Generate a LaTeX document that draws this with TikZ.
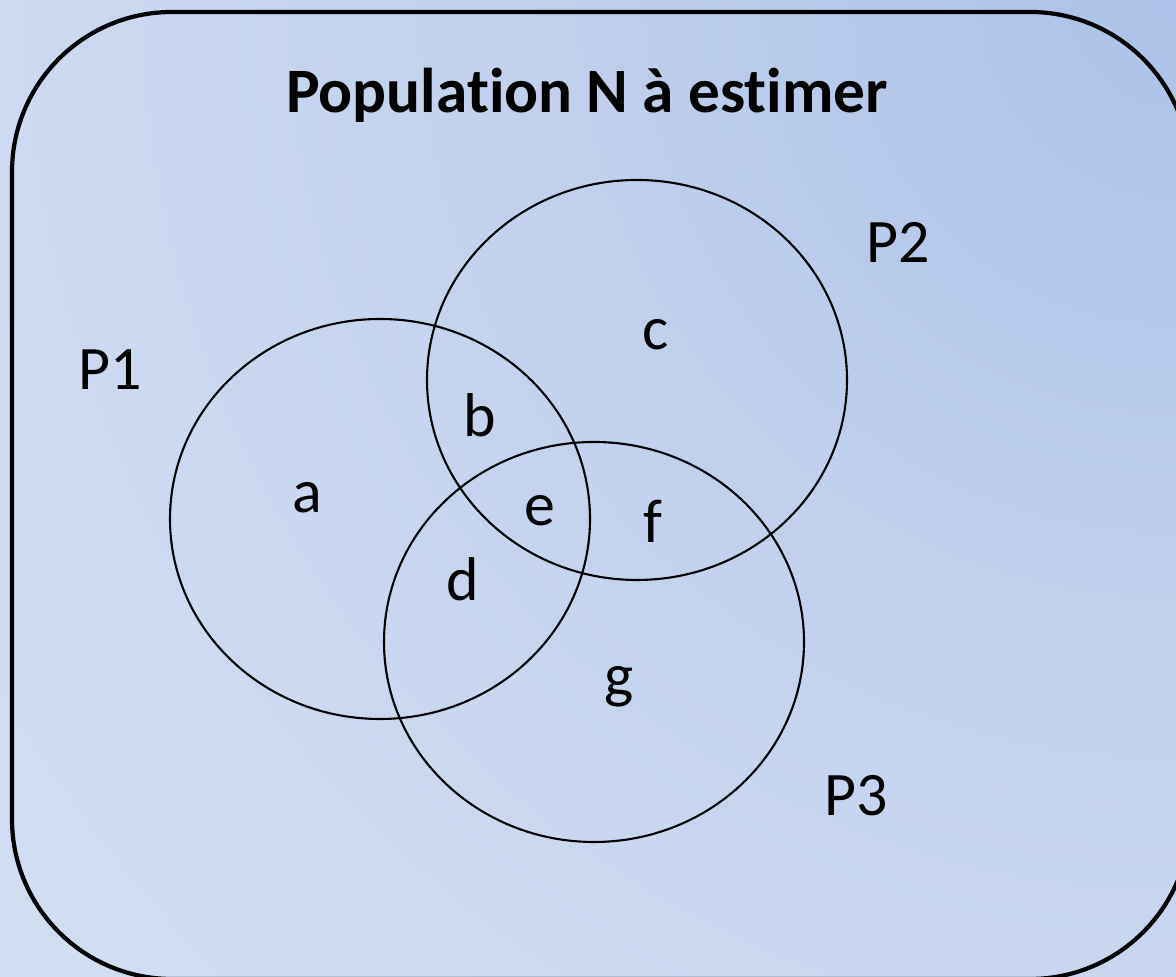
\documentclass[tikz,border=0pt]{standalone}
\usepackage{fontspec}
\setmainfont{Carlito}[Ligatures=NoCommon]
\usetikzlibrary{positioning}
\definecolor{bgdark}{RGB}{172,194,232}
\definecolor{bgmid}{RGB}{192,208,237}
\definecolor{bgsoft}{RGB}{208,220,242}
\definecolor{bglight}{RGB}{215,225,243}
\pgfdeclareradialshading{cornerglow}{\pgfpoint{0bp}{0bp}}{%
  color(0bp)=(bgdark); color(9bp)=(bgmid); color(19bp)=(bgsoft);
  color(30bp)=(bglight); color(50bp)=(bglight)}
\begin{document}
\begin{tikzpicture}[
  frame/.style={draw=black,line width=1.2pt,rounded corners=1.6cm},
  set/.style={draw=black,line width=0.6pt},
  title/.style={font=\fontsize{18}{21}\selectfont\bfseries,anchor=base},
  lbl/.style={font=\fontsize{17.6}{20}\selectfont,anchor=base,inner sep=0pt}]
\useasboundingbox (0,0) rectangle (11.76,9.77);
\begin{scope}
  \clip (0,0) rectangle (11.76,9.77);
  \fill[bglight] (0,0) rectangle (11.76,9.77);
  \shade[shading=cornerglow] (11.76,9.77) circle (17);
  \draw[frame] (0.12,9.65) rectangle (11.90,-0.02);
\end{scope}
% the three samples
\draw[set] (3.80,4.58) ellipse [x radius=2.10,y radius=2.00];
\draw[set] (6.37,5.97) ellipse [x radius=2.10,y radius=2.00];
\draw[set] (5.94,3.35) ellipse [x radius=2.10,y radius=2.00];
\node[title] (pop) at (5.87,8.64) {Population N à estimer};
\node[lbl] (p1) at (1.10,5.87) {P1};
\node[lbl] (p2) at (8.98,7.14) {P2};
\node[lbl] (p3) at (8.56,1.61) {P3};
\foreach \nm/\x/\y in {a/3.07/4.64,b/4.80/5.40,c/6.56/6.27,d/4.63/3.76,e/5.40/4.51,f/6.53/4.34,g/6.19/2.80}
  \node[lbl] (\nm) at (\x,\y) {\nm};
\end{tikzpicture}
\end{document}
